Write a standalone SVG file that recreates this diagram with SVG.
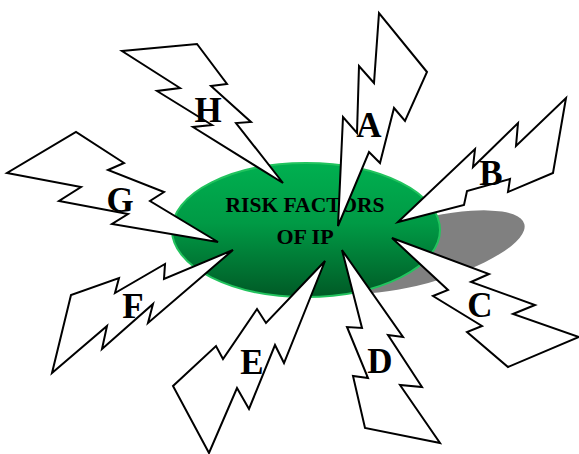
<svg xmlns="http://www.w3.org/2000/svg" width="579" height="454" viewBox="0 0 579 454">
<defs>
<linearGradient id="g" x1="0" y1="0" x2="0" y2="1">
<stop offset="0" stop-color="#00b050"/>
<stop offset="0.45" stop-color="#009a45"/>
<stop offset="1" stop-color="#005a26"/>
</linearGradient>
<style>
.bolt{fill:#fff;stroke:#000;stroke-width:2;stroke-linejoin:miter}
.lbl{font-family:"Liberation Serif",serif;font-weight:bold;font-size:35px;fill:#000;text-anchor:middle}
.ctr{font-family:"Liberation Serif",serif;font-weight:bold;font-size:22px;fill:#000;text-anchor:middle}
</style>
</defs>
<rect width="579" height="454" fill="#fff"/>
<g id="center">
<ellipse cx="420" cy="252" rx="108" ry="32" transform="rotate(-15 420 252)" fill="#808080"/>
<ellipse cx="306" cy="230" rx="134" ry="67" fill="url(#g)" stroke="#22c35e" stroke-width="2"/>
<text class="ctr" x="305" y="212" textLength="159" lengthAdjust="spacingAndGlyphs">RISK FACTORS</text>
<text class="ctr" x="305" y="244">OF IP</text>
</g>
<g id="connectors">
<polygon id="boltA" class="bolt" points="338,226 343,117 357,133 359,66 374,83 379,13 427,72 405,121 394,108 380,163 369,152"/>
<polygon id="boltB" class="bolt" points="398,222 475,149 473,167 518,123 516,146 566,98 553,173 508,192 510,179 467,191 464,205"/>
<polygon id="boltC" class="bolt" points="392,238 489,274 471,282 535,305 513,314 579,337 508,367 467,332 482,326 433,296 448,290"/>
<polygon id="boltD" class="bolt" points="342,250 403,337 388,335 422,387 400,385 440,443 365,428 353,376 368,378 347,327 362,328"/>
<polygon id="boltE" class="bolt" points="325,261 266,323 257,309 223,359 216,346 173,386 209,453 237,388 249,409 275,345 284,363"/>
<polygon id="boltF" class="bolt" points="233,250 164,279 165,264 115,293 119,278 71,295 52,373 107,326 102,349 153,304 148,323"/>
<polygon id="boltG" class="bolt" points="218,242 150,201 164,192 108,170 124,163 76,132 7,173 81,187 59,201 128,214 112,224"/>
<polygon id="boltH" class="bolt" points="283,183 193,127 212,125 157,91 180,88 122,51 197,44 227,84 211,86 251,122 236,123"/>
</g>
<g id="labels">
<g id="A"><text class="lbl" x="369" y="137">A</text></g>
<g id="B"><text class="lbl" x="491" y="185">B</text></g>
<g id="C"><text class="lbl" x="480" y="317">C</text></g>
<g id="D"><text class="lbl" x="380" y="373">D</text></g>
<g id="E"><text class="lbl" x="252" y="374">E</text></g>
<g id="F"><text class="lbl" x="133" y="318">F</text></g>
<g id="G"><text class="lbl" x="120" y="212">G</text></g>
<g id="H"><text class="lbl" x="208" y="122">H</text></g>
</g>
</svg>
